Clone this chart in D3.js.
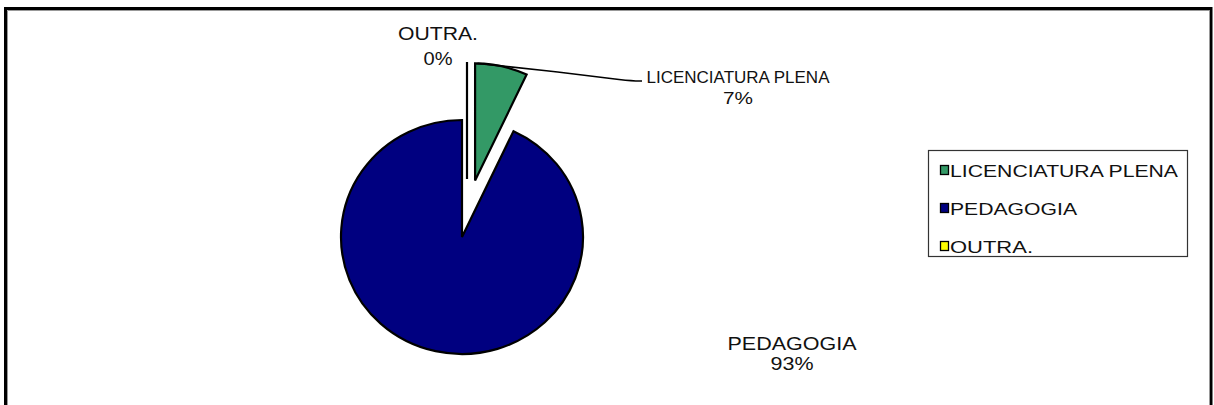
<!DOCTYPE html>
<html>
<head>
<meta charset="utf-8">
<script src="https://cdn.jsdelivr.net/npm/d3@7"></script>
<style>
  body { margin: 0; background: #fff; }
  svg text { font-family: "Liberation Sans", Arial, sans-serif; fill: #111; }
</style>
</head>
<body>
<script>
// dados do grafico
var categorias = ["LICENCIATURA PLENA", "PEDAGOGIA", "OUTRA."];
var valores = [7, 93, 0];
var rotulos = ["7%", "93%", "0%"];

var w = 1214, h = 405;
var cx = 462, cy = 237, raio = 117, escalaX = 121 / 117;

var cor = d3.scaleOrdinal()
            .domain(categorias)
            .range(["#339966", "#000080", "#FFFF00"]);

// deslocamento (explosao) de cada fatia
var explode = [58, 0, 58];
var ajusteX = [0, 0, 5];

// posicao dos rotulos: [x centro, linha base nome, linha base %, largura nome, largura %, tamanho]
var posRotulo = [
    [738, 83, 104, 183, 30, 16],
    [792, 350, 370, 129, 43, 18],
    [438, 40, 65, 80, 29, 18]
];

var svg = d3.select("body").append("svg")
            .attr("width", w)
            .attr("height", h);

svg.append("rect").attr("width", w).attr("height", h).attr("fill", "#fff");

// moldura do grafico
svg.append("rect")
   .attr("x", 5.5).attr("y", 8.5)
   .attr("width", 1205.5).attr("height", 430)
   .attr("fill", "none").attr("stroke", "#000").attr("stroke-width", 3);
svg.append("path")
   .attr("d", "M7.5,430 V10.5 H1209.5 V430")
   .attr("fill", "none").attr("stroke", "#999").attr("stroke-width", 1);

var pie = d3.pie().sort(null).value(function (d) { return d; });
var arc = d3.arc().innerRadius(0).outerRadius(raio);
var fatias = pie(valores);

var g = svg.append("g")
           .attr("transform", "translate(" + cx + "," + cy + ")");

g.selectAll("path")
 .data(fatias)
 .enter()
 .append("path")
 .attr("d", arc)
 .attr("transform", function (d, i) {
     var a = (d.startAngle + d.endAngle) / 2;
     var dx = Math.sin(a) * explode[i] * escalaX + ajusteX[i];
     var dy = -Math.cos(a) * explode[i];
     return "translate(" + dx + "," + dy + ") scale(" + escalaX + ",1)";
 })
 .attr("fill", function (d, i) { return cor(categorias[i]); })
 .attr("stroke", "#000")
 .attr("stroke-width", 2.2)
 .attr("stroke-linejoin", "miter")
 .attr("vector-effect", "non-scaling-stroke");

// linha guia da licenciatura
var ini = fatias[0];
var aIni = ini.startAngle + 0.02;
var x0 = cx + Math.sin(ini.startAngle + (ini.endAngle - ini.startAngle) / 2) * explode[0] * escalaX + Math.sin(aIni) * raio * escalaX;
var y0 = cy - Math.cos(ini.startAngle + (ini.endAngle - ini.startAngle) / 2) * explode[0] - Math.cos(aIni) * raio;
svg.append("path")
   .attr("d", d3.line().curve(d3.curveBasis)([[x0, y0], [560, 72], [628, 81], [642, 81]]))
   .attr("fill", "none").attr("stroke", "#000").attr("stroke-width", 1.6);

// rotulos das fatias
var rot = svg.selectAll(".rotulo")
             .data(categorias)
             .enter()
             .append("g")
             .attr("class", "rotulo");

rot.append("text")
   .attr("x", function (d, i) { return posRotulo[i][0]; })
   .attr("y", function (d, i) { return posRotulo[i][1]; })
   .attr("text-anchor", "middle")
   .attr("font-size", function (d, i) { return posRotulo[i][5] + "px"; })
   .attr("textLength", function (d, i) { return posRotulo[i][3]; })
   .attr("lengthAdjust", "spacingAndGlyphs")
   .text(function (d) { return d; });

rot.append("text")
   .attr("x", function (d, i) { return posRotulo[i][0]; })
   .attr("y", function (d, i) { return posRotulo[i][2]; })
   .attr("text-anchor", "middle")
   .attr("font-size", function (d, i) { return posRotulo[i][5] + "px"; })
   .attr("textLength", function (d, i) { return posRotulo[i][4]; })
   .attr("lengthAdjust", "spacingAndGlyphs")
   .text(function (d, i) { return rotulos[i]; });

// legenda
var legX = 928, legY = 150, legW = 259, legH = 106;
var legTexto = [228, 127, 83];
var y = d3.scalePoint().domain(categorias).range([177, 253]);

svg.append("rect")
   .attr("x", legX + 0.5).attr("y", legY + 0.5)
   .attr("width", legW).attr("height", legH)
   .attr("fill", "#fff").attr("stroke", "#333").attr("stroke-width", 1.2);

var leg = svg.selectAll(".legenda")
             .data(categorias)
             .enter()
             .append("g")
             .attr("class", "legenda");

leg.append("rect")
   .attr("x", 940.5)
   .attr("y", function (d) { return y(d) - 11.5; })
   .attr("width", 8).attr("height", 9)
   .attr("fill", function (d) { return cor(d); })
   .attr("stroke", "#000").attr("stroke-width", 1.3);

leg.append("text")
   .attr("x", 950)
   .attr("y", function (d) { return y(d); })
   .attr("font-size", "17px")
   .attr("textLength", function (d, i) { return legTexto[i]; })
   .attr("lengthAdjust", "spacingAndGlyphs")
   .text(function (d) { return d; });
</script>
</body>
</html>
